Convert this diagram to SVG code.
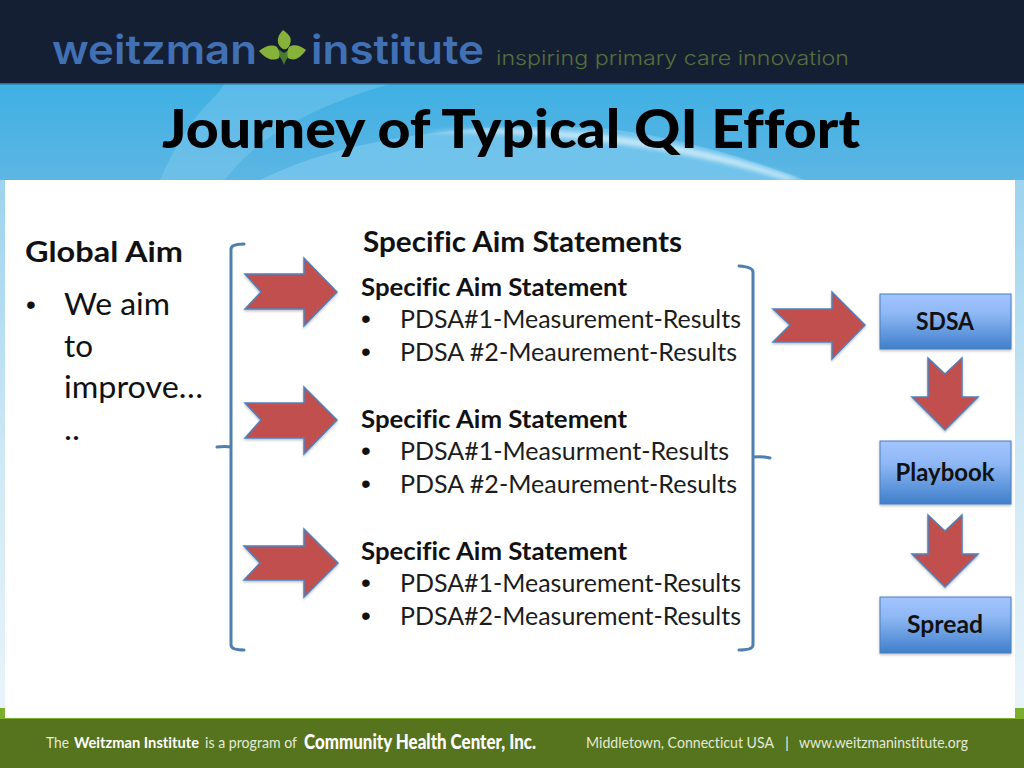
<svg xmlns="http://www.w3.org/2000/svg" width="1024" height="768" viewBox="0 0 1024 768">
<style>
text{font-family:"Lato","Carlito","Open Sans",sans-serif;fill:#111;font-variant-ligatures:none}
.b{font-weight:900}
.h{font-size:28.5px;font-weight:700}
.s{font-size:24.5px;font-weight:700}
.l{font-size:24.5px;fill:#1c1c1c}
.dot{font-size:28px;font-family:"Liberation Sans",sans-serif;fill:#111}
.arr{fill:#c0504d;stroke:#4f81bd;stroke-width:1.5;stroke-miterlimit:3;filter:url(#sh)}
.br{fill:none;stroke:#4f7fae;stroke-width:3;stroke-linecap:round;stroke-linejoin:round}
.box{fill:url(#bx);stroke:#4a7ebb;stroke-width:1;filter:url(#sh)}
.bt{font-size:24.5px;font-weight:700;text-anchor:middle}
.f{font-size:15px;fill:#e4ead6}
.tag{font-family:"Inter",sans-serif;font-weight:300;font-size:19px;fill:#566f3c}
.wz{font-family:"Inter","Open Sans",sans-serif;font-weight:600;font-size:40px;fill:#4171b4}
</style>
<defs>
<linearGradient id="sky" x1="0" y1="0" x2="0" y2="1"><stop offset="0" stop-color="#3fb0e3"/><stop offset="1" stop-color="#5db6e3"/></linearGradient>
<linearGradient id="side" x1="0" y1="0" x2="0" y2="1"><stop offset="0" stop-color="#7cc6ea"/><stop offset="0.6" stop-color="#cfe8f5"/><stop offset="1" stop-color="#eef7fb"/></linearGradient>
<linearGradient id="bx" x1="0" y1="0" x2="0" y2="1"><stop offset="0" stop-color="#a3c4ff"/><stop offset="0.35" stop-color="#8fb8f5"/><stop offset="1" stop-color="#3f7fcb"/></linearGradient>
<filter id="sh" x="-10%" y="-10%" width="120%" height="125%"><feDropShadow dx="0" dy="1.5" stdDeviation="1" flood-color="#000" flood-opacity="0.25"/></filter>
<filter id="blur"><feGaussianBlur stdDeviation="2"/></filter>
</defs>

<g id="background">
<rect width="1024" height="768" fill="url(#side)"/>
<rect y="84" width="1024" height="96" fill="url(#sky)"/>
<path d="M160 180 C175 145 195 115 215 96 L225 84 L390 84 C300 110 250 145 225 180Z" fill="#8ed0f0" opacity=".35"/>
<path d="M260 180 C350 135 480 122 600 128 C680 136 750 160 805 180Z" fill="#7fcbef" opacity=".65"/>
<path d="M420 133 C540 122 680 135 800 180 L785 180 C680 146 540 130 420 133Z" fill="#d8f0fb" opacity=".8" filter="url(#blur)"/>
<rect y="0" width="1024" height="83" fill="#151f33"/>
<rect y="83" width="1024" height="1.5" fill="#2a6f9e"/>
<rect y="708" width="1024" height="12" fill="#7cae2e"/>
<rect y="719" width="1024" height="49" fill="#56731d"/>
<rect x="5" y="180" width="1010" height="538" fill="#fff"/>
</g>

<g id="header-logo">
<text class="wz" x="52" y="64" textLength="205" lengthAdjust="spacingAndGlyphs">weitzman</text>
<path d="M284 65 C282 58 277 53 272 51 L278 49 L284 53 L290 49 L296 51 C291 53 286 58 284 65Z" fill="#4d7a32"/>
<path d="M283 49 C276 45 276 37 283 30 C287 33 293 37 290 44 C289 48 286 50 283 49Z" fill="#86b23a"/>
<path d="M279 58 C272 62 265 58 259 51 C265 46 272 44 277 47 C279 50 280 54 279 58Z" fill="#86b23a"/>
<path d="M288 58 C295 62 301 57 306 50 C300 45 293 44 289 47 C287 50 287 54 288 58Z" fill="#86b23a"/>
<text class="wz" x="311" y="64" textLength="173" lengthAdjust="spacingAndGlyphs">institute</text>
<text class="tag" x="496" y="65" textLength="353" lengthAdjust="spacingAndGlyphs">inspiring primary care innovation</text>
</g>

<g id="title">
<text class="b" x="162" y="148" font-size="53.5" textLength="698" lengthAdjust="spacingAndGlyphs" style="fill:#000">Journey of Typical QI Effort</text>
</g>

<g id="global-aim">
<text class="h" x="25" y="262" textLength="158" lengthAdjust="spacingAndGlyphs">Global Aim</text>
<text class="dot" x="26" y="314">•</text>
<text x="64" y="315" font-size="30" textLength="106" lengthAdjust="spacingAndGlyphs">We aim</text>
<text x="64" y="357" font-size="30" textLength="29" lengthAdjust="spacingAndGlyphs">to</text>
<text x="64" y="398" font-size="30" textLength="139" lengthAdjust="spacingAndGlyphs">improve…</text>
<text x="64" y="440" font-size="30" textLength="16" lengthAdjust="spacingAndGlyphs">..</text>
</g>

<g id="specific-aims">
<text class="h" x="363" y="252" textLength="319" lengthAdjust="spacingAndGlyphs">Specific Aim Statements</text>

<text class="s" x="361" y="296" textLength="266" lengthAdjust="spacingAndGlyphs">Specific Aim Statement</text>
<text class="dot" x="361" y="328">•</text>
<text class="l" x="400" y="328" textLength="341" lengthAdjust="spacingAndGlyphs">PDSA#1-Measurement-Results</text>
<text class="dot" x="361" y="361">•</text>
<text class="l" x="400" y="361" textLength="337" lengthAdjust="spacingAndGlyphs">PDSA #2-Meaurement-Results</text>

<text class="s" x="361" y="428" textLength="266" lengthAdjust="spacingAndGlyphs">Specific Aim Statement</text>
<text class="dot" x="361" y="460">•</text>
<text class="l" x="400" y="460" textLength="329" lengthAdjust="spacingAndGlyphs">PDSA#1-Measurment-Results</text>
<text class="dot" x="361" y="493">•</text>
<text class="l" x="400" y="493" textLength="337" lengthAdjust="spacingAndGlyphs">PDSA #2-Meaurement-Results</text>

<text class="s" x="361" y="560" textLength="266" lengthAdjust="spacingAndGlyphs">Specific Aim Statement</text>
<text class="dot" x="361" y="592">•</text>
<text class="l" x="400" y="592" textLength="341" lengthAdjust="spacingAndGlyphs">PDSA#1-Measurement-Results</text>
<text class="dot" x="361" y="625">•</text>
<text class="l" x="400" y="625" textLength="341" lengthAdjust="spacingAndGlyphs">PDSA#2-Measurement-Results</text>
</g>

<g id="connectors">
<path class="br" d="M244 244 Q231 244 231 249 L231 447 Q225 446 217 447 M231 447 L231 645 Q231 650 244 650"/>
<path class="br" d="M739 266 Q753 267 753 272 L753 457 Q762 456 770 458 M753 457 L753 645 Q753 650 739 650"/>
<polygon class="arr" points="245,274 304,274 304,258 337,292 304,326 304,309 245,309 261,292"/>
<polygon class="arr" points="245,403 304,403 304,387 337,420 304,454 304,438 245,438 261,420"/>
<polygon class="arr" points="244,546 304,546 304,529 338,563 304,597 304,580 244,580 260,563"/>
<polygon class="arr" points="773,309 832,309 832,292 865,325 832,359 832,342 773,342 790,325"/>
<polygon class="arr" points="928,358 945,374 962,358 962,397 978,397 945,430 912,397 928,397"/>
<polygon class="arr" points="928,515 945,531 962,515 962,554 978,554 945,587 912,554 928,554"/>
</g>

<g id="node-sdsa">
<rect class="box" x="880" y="294" width="131" height="55"/>
<text class="bt" x="945" y="330" textLength="58" lengthAdjust="spacingAndGlyphs">SDSA</text>
</g>
<g id="node-playbook">
<rect class="box" x="880" y="441" width="131" height="63"/>
<text class="bt" x="945" y="481" textLength="99" lengthAdjust="spacingAndGlyphs">Playbook</text>
</g>
<g id="node-spread">
<rect class="box" x="880" y="597" width="131" height="56"/>
<text class="bt" x="945" y="633" textLength="76" lengthAdjust="spacingAndGlyphs">Spread</text>
</g>

<g id="footer">
<text class="f" x="46" y="748" textLength="23" lengthAdjust="spacingAndGlyphs">The</text>
<text class="f" x="74" y="748" font-weight="700" textLength="125" lengthAdjust="spacingAndGlyphs" style="fill:#fff">Weitzman Institute</text>
<text class="f" x="205" y="748" textLength="92" lengthAdjust="spacingAndGlyphs">is a program of</text>
<text x="304" y="749" font-size="21" font-weight="900" textLength="232" lengthAdjust="spacingAndGlyphs" style="fill:#fff">Community Health Center, Inc.</text>
<text class="f" x="586" y="748" textLength="188" lengthAdjust="spacingAndGlyphs">Middletown, Connecticut USA</text>
<text class="f" x="785" y="748" textLength="4" lengthAdjust="spacingAndGlyphs">|</text>
<text class="f" x="799" y="748" textLength="169" lengthAdjust="spacingAndGlyphs">www.weitzmaninstitute.org</text>
</g>
</svg>
